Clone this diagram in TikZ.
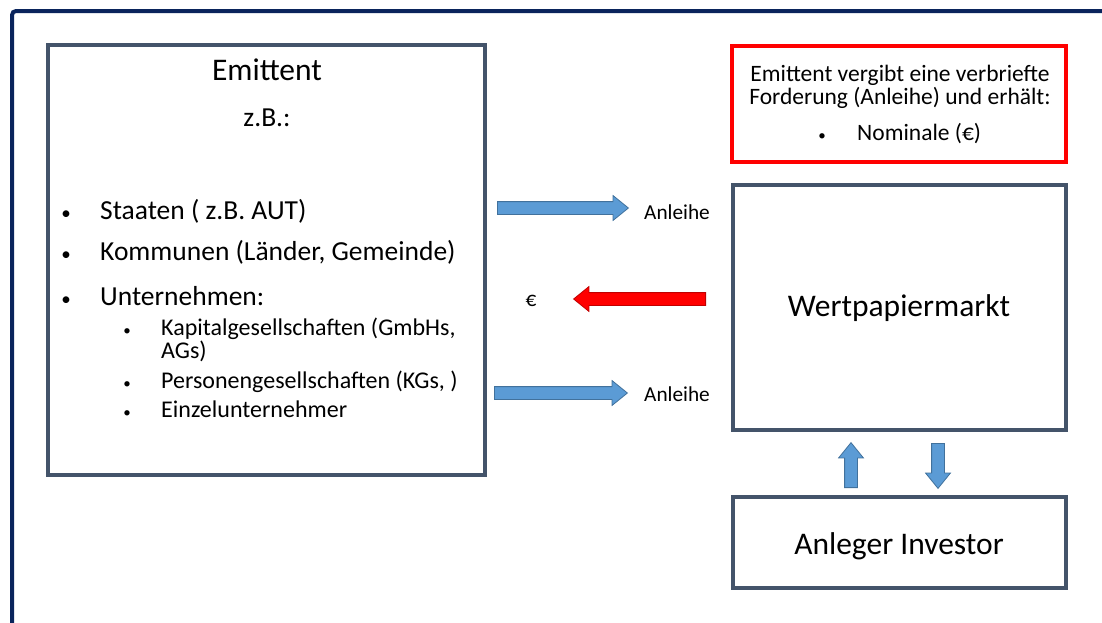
\documentclass[tikz,border=0pt]{standalone}
\usepackage{fontspec}
\setmainfont{Carlito}
\usetikzlibrary{shapes.arrows, positioning}
\definecolor{navy}{HTML}{0A245C}
\definecolor{slate}{HTML}{44546A}
\definecolor{arrowblue}{HTML}{5B9BD5}
\definecolor{arrowedge}{HTML}{41719C}
\definecolor{arrowred}{HTML}{FF0000}
\definecolor{arrowrededge}{HTML}{C00000}
\newcommand{\dotmark}[1]{{\fontsize{#1}{#1}\selectfont\textbullet}}

\begin{document}
\begin{tikzpicture}[x=1pt, y=-1pt,
  box/.style={draw=slate, line width=4pt, inner sep=0pt},
  blockarrow/.style={single arrow, line width=0.8pt, inner sep=6pt,
    single arrow head extend=6pt, single arrow tip angle=78, anchor=tail},
  bluearrow/.style={blockarrow, draw=arrowedge, fill=arrowblue},
  redarrow/.style={blockarrow, draw=arrowrededge, fill=arrowred},
  big/.style={font=\fontsize{31.5}{34}\selectfont, anchor=base, inner sep=0pt},
  main/.style={font=\fontsize{27.5}{30}\selectfont, anchor=base west, inner sep=0pt},
  sub/.style={font=\fontsize{24}{27}\selectfont, anchor=base west, inner sep=0pt},
  small/.style={font=\fontsize{23.5}{26}\selectfont, anchor=base, inner sep=0pt},
  label/.style={font=\fontsize{21.3}{24}\selectfont, anchor=base, inner sep=0pt}]
\useasboundingbox (0,0) rectangle (1102,622);

% frame
\draw[navy, line width=4pt, rounded corners=4pt] (12,624) -- (12,11) -- (1104,11);

% boxes
\node[box, minimum width=437pt, minimum height=430pt] (emittent) at (266.5,260) {};
\node[box, draw=red, minimum width=334pt, minimum height=116pt] (info) at (899,104) {};
\node[box, minimum width=333pt, minimum height=245pt] (markt) at (899.5,307.5) {};
\node[box, minimum width=333pt, minimum height=91pt] (anleger) at (899.5,542.5) {};

% Emittent
\node[big] (title) at (267,80) {Emittent};
\node[main, anchor=base] (zb) at (267,126) {z.B.:};
\foreach \y/\txt [count=\i] in {219/Staaten ( z.B. AUT), 260/{Kommunen (Länder, Gemeinde)}, 305/Unternehmen:} {
  \node[main, anchor=base] at (66,\y) {\dotmark{19}};
  \node[main] (item\i) at (100,\y) {\txt};
}
\foreach \y/\txt [count=\i] in {335/{Kapitalgesellschaften (GmbHs,}, 388/{Personengesellschaften (KGs, )}, 417/Einzelunternehmer} {
  \node[sub, anchor=base] at (127,\y) {\dotmark{15}};
  \node[sub] (sub\i) at (161,\y) {\txt};
}
\node[sub] (ags) at (161,358) {AGs)};

% Info
\node[small] (info1) at (900,81) {Emittent vergibt eine verbriefte};
\node[small] (info2) at (900,104) {Forderung (Anleihe) und erhält:};
\node[small] (dot) at (822,140) {\dotmark{15}};
\node[small, anchor=base west] (nominale) at (857,140) {Nominale (€)};

% Markt, Anleger
\node[big] at (899,316) {Wertpapiermarkt};
\node[big] at (899,554) {Anleger Investor};

% arrows
\node[bluearrow, minimum height=131pt] (a1) at (497,208) {};
\node[bluearrow, minimum height=133pt] (a3) at (494,393) {};
\node[redarrow, minimum height=132pt, shape border rotate=180] (a2) at (706,299) {};
\node[bluearrow, minimum height=45pt, shape border rotate=90] (up) at (851,488) {};
\node[bluearrow, minimum height=45pt, shape border rotate=270] (down) at (938,443) {};

\node[label] (l1) at (677,219) {Anleihe};
\node[label] (l3) at (677,401) {Anleihe};
\node[label] (euro) at (531,306) {€};
\end{tikzpicture}
\end{document}
